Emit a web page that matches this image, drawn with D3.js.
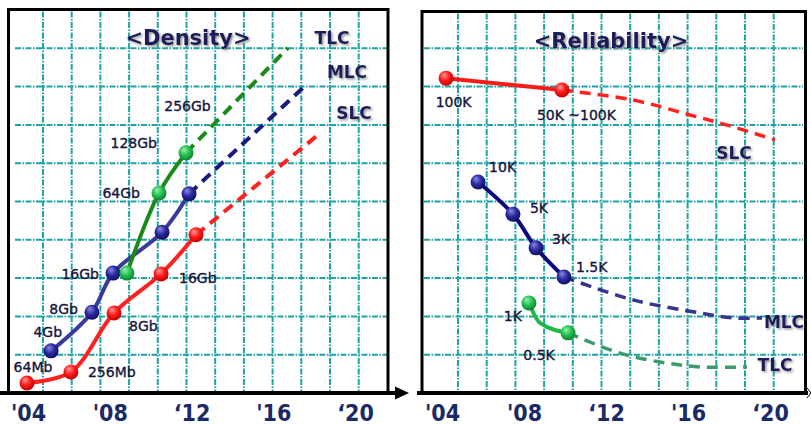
<!DOCTYPE html>
<html><head><meta charset="utf-8">
<script src="https://cdn.jsdelivr.net/npm/d3@7"></script>
<style>
html,body{margin:0;padding:0;background:#fff;}
svg{display:block;}
</style></head>
<body>
<svg id="chart" width="811" height="425"></svg>
<script>
// ---------- DATA ----------
const tickYears = [2004, 2008, 2012, 2016, 2020];
const tickLabels = ["'04", "'08", "\u201812", "'16", "\u201820"];
const gridLevels = [1, 2, 3, 4, 5, 6, 7, 8, 9];

// Density panel (year, level in grid units)
const slcDensYears = [2003.95, 2006.10, 2008.21, 2010.51, 2012.22];
const slcDensLevels = [0.26, 0.55, 2.09, 3.11, 4.13];
const slcDensLabels = ["64Mb", "256Mb", "8Gb", "16Gb", ""];
const slcDensFutureYears = [2012.22, 2018.24];
const slcDensFutureLevels = [4.13, 6.76];

const mlcDensYears = [2005.13, 2007.13, 2008.16, 2010.56, 2011.88];
const mlcDensLevels = [1.10, 2.11, 3.13, 4.20, 5.20];
const mlcDensLabels = ["4Gb", "8Gb", "16Gb", "", ""];
const mlcDensFutureYears = [2011.88, 2017.50];
const mlcDensFutureLevels = [5.20, 7.99];

const tlcDensYears = [2008.84, 2010.41, 2011.73];
const tlcDensLevels = [3.13, 5.22, 6.27];
const tlcDensLabels = ["", "64Gb", "128Gb"];
const tlcDensFutureYears = [2011.73, 2016.72];
const tlcDensFutureLevels = [6.27, 9.01];

// Reliability panel (year, level in grid units)
const slcRelYears = [2004.20, 2009.85];
const slcRelLevels = [8.22, 7.91];
const slcRelLabels = ["100K", "50K ~100K"];
const slcRelFutureYears = [2009.85, 2013.32, 2016.10, 2018.20, 2020.24];
const slcRelFutureLevels = [7.91, 7.65, 7.26, 6.95, 6.61];

const mlcRelYears = [2005.76, 2007.46, 2008.59, 2009.95];
const mlcRelLevels = [5.51, 4.67, 3.79, 3.03];
const mlcRelLabels = ["10K", "5K", "3K", "1.5K"];
const mlcRelFutureYears = [2009.95, 2013.32, 2016.59, 2018.20, 2019.61];
const mlcRelFutureLevels = [3.03, 2.43, 2.09, 1.96, 1.96];

const tlcRelYears = [2008.24, 2010.15];
const tlcRelLevels = [2.35, 1.57];
const tlcRelLabels = ["1K", "0.5K"];
const tlcRelCurveYears = [2008.24, 2008.78, 2010.15];
const tlcRelCurveLevels = [2.35, 1.83, 1.57];
const tlcRelFutureYears = [2010.15, 2012.68, 2014.98, 2016.59, 2018.88];
const tlcRelFutureLevels = [1.57, 1.04, 0.78, 0.68, 0.68];

// ---------- DRAW ----------
const svg = d3.select("#chart");
const defs = svg.append("defs");

const shadow = defs.append("filter").attr("id", "shadow")
  .attr("x", "-10%").attr("y", "-20%").attr("width", "130%").attr("height", "150%");
shadow.append("feDropShadow").attr("dx", 1.5).attr("dy", 1.5)
  .attr("stdDeviation", 1).attr("flood-color", "#777").attr("flood-opacity", 0.8);

function sphere(id, light, mid, dark) {
  const g = defs.append("radialGradient").attr("id", id)
    .attr("cx", "45%").attr("cy", "40%").attr("r", "60%")
    .attr("fx", "35%").attr("fy", "28%");
  g.append("stop").attr("offset", "0%").attr("stop-color", light);
  g.append("stop").attr("offset", "55%").attr("stop-color", mid);
  g.append("stop").attr("offset", "100%").attr("stop-color", dark);
}
sphere("gRed", "#ff9a9a", "#ff1a1a", "#c00000");
sphere("gBlue", "#8a8ae0", "#2a2aa0", "#101060");
sphere("gGreen", "#9af0b0", "#22c050", "#0f8030");

const y = d3.scaleLinear().domain([0, 10]).range([393, 10]);
const xL = d3.scaleLinear().domain([2004, 2020]).range([28, 355]);
const xR = d3.scaleLinear().domain([2004, 2020]).range([442, 770]);

const gridColor = "#1ea4a4";
const gridDash = "6,1.5,1.5,1.5";

function panel(opts) {
  const g = svg.append("g");
  const vx = d3.range(12).map(i => opts.gridX0 + i * 28.7);
  g.selectAll(".gv").data(vx).join("line")
    .attr("x1", d => d).attr("x2", d => d)
    .attr("y1", opts.top + 2).attr("y2", 393)
    .attr("stroke", gridColor).attr("stroke-width", 2).attr("stroke-dasharray", gridDash);
  g.selectAll(".gh").data(gridLevels).join("line")
    .attr("x1", opts.gridLeft).attr("x2", opts.gridRight)
    .attr("y1", d => y(d)).attr("y2", d => y(d))
    .attr("stroke", gridColor).attr("stroke-width", 2).attr("stroke-dasharray", gridDash);
  g.append("path")
    .attr("d", `M${opts.left},393 V${opts.top} H${opts.right} V393`)
    .attr("fill", "none").attr("stroke", "#000").attr("stroke-width", 3);
  g.append("line").attr("x1", opts.axisX1).attr("x2", opts.axisX2)
    .attr("y1", 393).attr("y2", 393).attr("stroke", "#000").attr("stroke-width", 4);
  const ax = d3.axisBottom(opts.x).tickValues(tickYears)
    .tickFormat((d, i) => tickLabels[i]).tickSize(0).tickPadding(12);
  const ag = g.append("g").attr("transform", "translate(0,393)").call(ax);
  ag.select(".domain").remove();
  ag.selectAll("text")
    .attr("fill", "#1a2a66")
    .style("font-family", "'Liberation Sans Narrow','Arial Narrow','DejaVu Sans Condensed',sans-serif")
    .style("font-weight", "bold").style("font-size", "23px");
  return g;
}

const gL = panel({ x: xL, left: 8.5, right: 388, top: 9.5, gridX0: 43, gridLeft: 15, gridRight: 388,
  axisX1: 0, axisX2: 397 });
const gR = panel({ x: xR, left: 422, right: 805.5, top: 11.5, gridX0: 458, gridLeft: 424, gridRight: 803,
  axisX1: 417, axisX2: 808 });

svg.append("path").attr("d", "M395,386.5 L409,393 L395,399.5 Z").attr("fill", "#000");
svg.append("path").attr("d", "M807,388 L811,393 L807,398").attr("fill", "none").attr("stroke", "#000").attr("stroke-width", 1);

function series(g, x, yrs, lvls, color, width, dashed, curve) {
  const pts = yrs.map((d, i) => [x(d), y(lvls[i])]);
  g.append("path").datum(pts)
    .attr("d", d3.line().curve(curve || d3.curveCatmullRom.alpha(0.5)))
    .attr("fill", "none").attr("stroke", color).attr("stroke-width", width)
    .attr("stroke-linecap", "butt")
    .attr("stroke-dasharray", dashed ? "11,7" : null);
}
function markers(g, x, yrs, lvls, grad, r) {
  g.selectAll(null).data(yrs.map((d, i) => [x(d), y(lvls[i])])).join("circle")
    .attr("cx", d => d[0]).attr("cy", d => d[1]).attr("r", r || 7.5)
    .attr("fill", `url(#${grad})`);
}
function labels(g, x, yrs, lvls, texts, offs) {
  texts.forEach((t, i) => {
    if (!t) return;
    const o = offs[i];
    g.append("text").attr("x", x(yrs[i]) + o[0]).attr("y", y(lvls[i]) + o[1])
      .attr("text-anchor", o[2]).text(t)
      .attr("fill", "#14143c").attr("stroke", "#14143c").attr("stroke-width", 0.35)
      .style("font-family", "'DejaVu Sans',Verdana,sans-serif")
      .style("font-size", "14px");
  });
}
function seriesName(g, txt, cx, cy, size) {
  g.append("text").attr("x", cx).attr("y", cy).attr("text-anchor", "middle").text(txt)
    .attr("fill", "#1c1c5c").attr("filter", "url(#shadow)")
    .style("font-family", "'DejaVu Sans',sans-serif").style("font-weight", "bold")
    .style("font-size", size + "px");
}

// ---- Density panel ----
const navyL = "#3a3a9c";
series(gL, xL, slcDensFutureYears, slcDensFutureLevels, "#ff2020", 4, true, d3.curveLinear);
series(gL, xL, mlcDensFutureYears, mlcDensFutureLevels, "#1a1a80", 4, true, d3.curveLinear);
series(gL, xL, tlcDensFutureYears, tlcDensFutureLevels, "#1a8a1a", 4, true, d3.curveLinear);
series(gL, xL, slcDensYears, slcDensLevels, "#ff2020", 4, false);
series(gL, xL, mlcDensYears, mlcDensLevels, navyL, 4, false);
series(gL, xL, tlcDensYears, tlcDensLevels, "#1a8a1a", 4, false);
markers(gL, xL, slcDensYears, slcDensLevels, "gRed");
markers(gL, xL, mlcDensYears, mlcDensLevels, "gBlue");
markers(gL, xL, tlcDensYears, tlcDensLevels, "gGreen");
labels(gL, xL, slcDensYears, slcDensLevels, slcDensLabels,
  [[6, -11, "middle"], [17, 5, "start"], [15, 18, "start"], [18, 9, "start"], [0, 0, "start"]]);
labels(gL, xL, mlcDensYears, mlcDensLevels, mlcDensLabels,
  [[11, -14, "end"], [-14, 2, "end"], [-14, 6, "end"], [0, 0, "end"], [0, 0, "end"]]);
labels(gL, xL, tlcDensYears, tlcDensLevels, tlcDensLabels,
  [[0, 0, "end"], [-19, 5, "end"], [-29, -5, "end"]]);
labels(gL, xL, [tlcDensYears[2]], [tlcDensLevels[2]], ["256Gb"], [[1.5, -42, "middle"]]);
seriesName(gL, "<Density>", 188, 45, 21);
seriesName(gL, "TLC", 332, 44, 17);
seriesName(gL, "MLC", 347, 78, 17);
seriesName(gL, "SLC", 354, 119, 17);

// ---- Reliability panel ----
series(gR, xR, slcRelFutureYears, slcRelFutureLevels, "#ff2020", 3.5, true);
series(gR, xR, mlcRelFutureYears, mlcRelFutureLevels, "#35358f", 3.5, true);
series(gR, xR, tlcRelFutureYears, tlcRelFutureLevels, "#3d9a6a", 3.5, true);
series(gR, xR, slcRelYears, slcRelLevels, "#ff1a1a", 4, false, d3.curveLinear);
series(gR, xR, mlcRelYears, mlcRelLevels, "#0c0c80", 4, false);
series(gR, xR, tlcRelCurveYears, tlcRelCurveLevels, "#20b848", 4, false, d3.curveMonotoneX);
markers(gR, xR, slcRelYears, slcRelLevels, "gRed");
markers(gR, xR, mlcRelYears, mlcRelLevels, "gBlue");
markers(gR, xR, tlcRelYears, tlcRelLevels, "gGreen");
labels(gR, xR, slcRelYears, slcRelLevels, slcRelLabels,
  [[7.5, 29, "middle"], [14.5, 30, "middle"]]);
labels(gR, xR, mlcRelYears, mlcRelLevels, mlcRelLabels,
  [[11, -10, "start"], [17, -1, "start"], [16, -4, "start"], [12, -5, "start"]]);
labels(gR, xR, tlcRelYears, tlcRelLevels, tlcRelLabels,
  [[-7, 18, "end"], [-29, 27, "middle"]]);
seriesName(gR, "<Reliability>", 611, 48, 21);
seriesName(gR, "SLC", 734, 159, 17);
seriesName(gR, "MLC", 784, 328, 17);
seriesName(gR, "TLC", 775, 371, 17);
</script>
</body></html>
